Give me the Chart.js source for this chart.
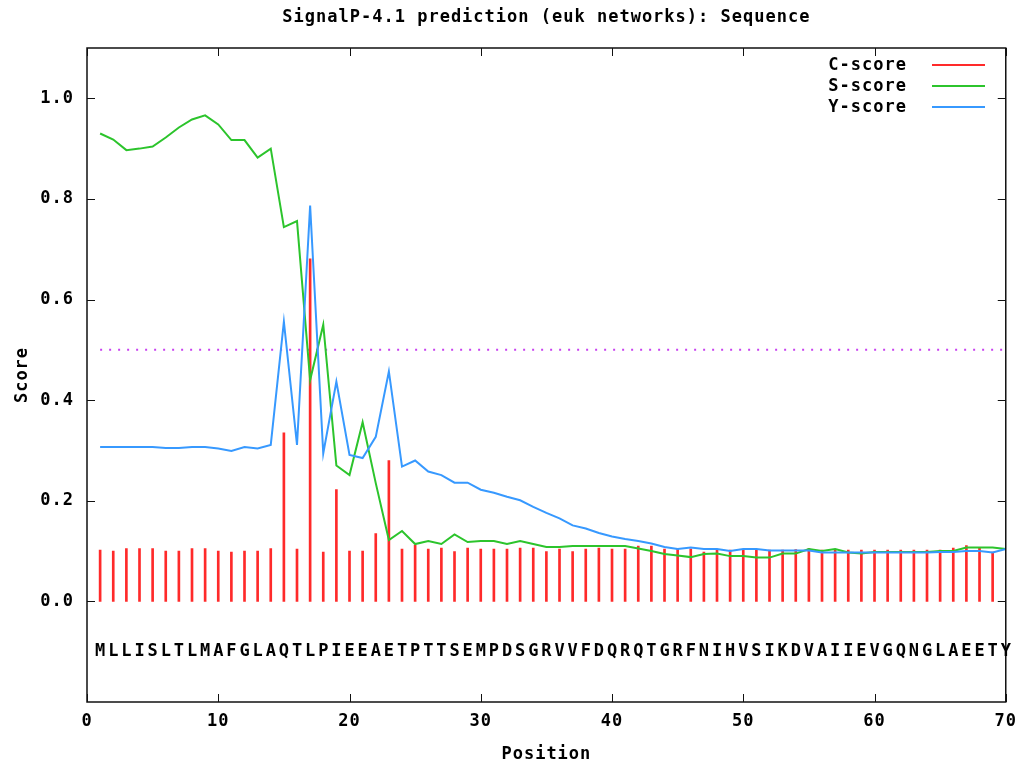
<!DOCTYPE html>
<html>
<head>
<meta charset="utf-8">
<script src="https://cdn.jsdelivr.net/npm/chart.js@4.4.1/dist/chart.umd.min.js"></script>
<style>
html,body{margin:0;padding:0;background:#fff;}
canvas{display:block;}
</style>
</head>
<body>
<canvas id="c" width="1025" height="763"></canvas>
<script>
const titleText = "SignalP-4.1 prediction (euk networks): Sequence";
const sequence = "MLLISLTLMAFGLAQTLPIEEAETPTTSEMPDSGRVVFDQRQTGRFNIHVSIKDVAIIEVGQNGLAEETY".split("");
const positions = sequence.map((_, i) => i + 1);

const cScore = [0.102,0.100,0.105,0.105,0.105,0.100,0.100,0.105,0.105,0.100,
  0.098,0.100,0.100,0.105,0.335,0.104,0.681,0.098,0.222,0.100,
  0.100,0.135,0.280,0.104,0.112,0.104,0.106,0.099,0.106,0.104,
  0.104,0.104,0.106,0.106,0.099,0.104,0.099,0.104,0.106,0.104,
  0.104,0.110,0.110,0.104,0.104,0.104,0.098,0.103,0.102,0.102,
  0.103,0.102,0.102,0.103,0.105,0.102,0.103,0.102,0.102,0.102,
  0.102,0.102,0.102,0.102,0.102,0.106,0.111,0.106,0.098];

const sScore = [0.930,0.918,0.897,0.900,0.904,0.922,0.942,0.958,0.966,0.948,
  0.917,0.917,0.882,0.900,0.744,0.756,0.440,0.550,0.270,0.251,
  0.356,0.235,0.122,0.140,0.114,0.120,0.114,0.133,0.118,0.120,
  0.120,0.114,0.120,0.114,0.108,0.108,0.110,0.110,0.110,0.110,
  0.110,0.105,0.100,0.094,0.091,0.088,0.094,0.095,0.090,0.090,
  0.087,0.087,0.095,0.095,0.104,0.100,0.104,0.097,0.095,0.098,
  0.098,0.098,0.098,0.098,0.100,0.100,0.107,0.107,0.107,0.104];

const yScore = [0.307,0.307,0.307,0.307,0.307,0.305,0.305,0.307,0.307,0.304,
  0.299,0.307,0.304,0.311,0.556,0.311,0.787,0.294,0.437,0.291,
  0.285,0.327,0.457,0.268,0.280,0.258,0.251,0.236,0.236,0.222,
  0.216,0.208,0.201,0.188,0.176,0.165,0.151,0.145,0.136,0.129,
  0.124,0.120,0.115,0.108,0.104,0.107,0.104,0.104,0.100,0.104,
  0.104,0.101,0.101,0.101,0.101,0.097,0.097,0.097,0.097,0.097,
  0.097,0.097,0.097,0.097,0.098,0.098,0.100,0.100,0.097,0.104];

const threshold = 0.5;
const xTicks = [0,10,20,30,40,50,60,70];
const yTicks = [0.0,0.2,0.4,0.6,0.8,1.0];
const seqLetterY = -0.1;

const FONT = "DejaVu Sans Mono";
const fontSpec = {family: FONT, size: 17, weight: 'bold'};

const toXY = arr => arr.map((v, i) => ({x: positions[i], y: v}));

const customPlugin = {
  id: 'gnuplotStyle',
  beforeInit(chart) { chart.ctx.letterSpacing = '1px'; },
  beforeDraw(chart) { chart.ctx.letterSpacing = '1px'; },
  afterDatasetsDraw(chart) {
    const {ctx, chartArea: a, scales: {x, y}} = chart;
    ctx.save();
    ctx.strokeStyle = '#111';
    ctx.lineWidth = 1.5;
    ctx.strokeRect(a.left, a.top, a.right - a.left, a.bottom - a.top);
    ctx.beginPath();
    const tl = 8;
    yTicks.forEach(v => {
      const py = Math.round(y.getPixelForValue(v)) + 0.5;
      ctx.moveTo(a.left, py); ctx.lineTo(a.left + tl, py);
      ctx.moveTo(a.right, py); ctx.lineTo(a.right - tl, py);
    });
    xTicks.forEach(v => {
      const px = Math.round(x.getPixelForValue(v)) + 0.5;
      ctx.moveTo(px, a.bottom); ctx.lineTo(px, a.bottom - tl);
      ctx.moveTo(px, a.top); ctx.lineTo(px, a.top + tl);
    });
    ctx.lineWidth = 1;
    ctx.stroke();
    ctx.restore();
  },
  afterDraw(chart) {
    const {ctx, chartArea: a, scales: {x, y}} = chart;
    ctx.save();
    ctx.letterSpacing = '1px';
    ctx.fillStyle = '#000';
    ctx.font = `bold 17px "${FONT}"`;
    ctx.textAlign = 'center';
    ctx.textBaseline = 'middle';
    ctx.fillText(titleText, (a.left + a.right) / 2, 18);
    // sequence letters
    ctx.letterSpacing = '0px';
    const sy = y.getPixelForValue(seqLetterY);
    sequence.forEach((ch, i) => {
      ctx.fillText(ch, x.getPixelForValue(positions[i]), sy);
    });
    // legend
    ctx.letterSpacing = '1px';
    const items = chart.data.datasets.filter(d => d.legend);
    items.sort((p, q) => p.legend - q.legend);
    ctx.textAlign = 'right';
    items.forEach((d, i) => {
      const ly = 65 + i * 21;
      ctx.fillStyle = '#000';
      ctx.fillText(d.label, 907, ly + 1);
      ctx.strokeStyle = d.borderColor;
      ctx.lineWidth = 2;
      ctx.beginPath();
      ctx.moveTo(932, ly); ctx.lineTo(985, ly);
      ctx.stroke();
    });
    ctx.restore();
  }
};

new Chart(document.getElementById('c'), {
  type: 'bar',
  data: {
    datasets: [
      {type: 'line', label: 'Y-score', legend: 3, data: toXY(yScore), borderColor: '#3799ff', borderWidth: 2, pointRadius: 0, tension: 0, order: 0},
      {type: 'line', label: 'S-score', legend: 2, data: toXY(sScore), borderColor: '#2cc42c', borderWidth: 2, pointRadius: 0, tension: 0, order: 1},
      {type: 'bar', label: 'C-score', legend: 1, data: toXY(cScore), backgroundColor: '#ff2a2a', borderColor: '#ff2a2a', barThickness: 2, order: 2},
      {type: 'line', label: 'threshold', data: [{x: positions[0], y: threshold}, {x: positions[positions.length - 1], y: threshold}], borderColor: '#c840f0', borderWidth: 2, borderDash: [2, 7], pointRadius: 0, order: 3}
    ]
  },
  options: {
    responsive: false,
    devicePixelRatio: 1,
    animation: false,
    layout: {padding: {top: 48, right: 18, left: 0, bottom: 0}},
    plugins: {legend: {display: false}, title: {display: false}, tooltip: {enabled: false}},
    scales: {
      x: {
        type: 'linear', min: 0, max: 70, offset: false,
        grid: {display: false, drawTicks: false},
        border: {display: false},
        afterBuildTicks: s => { s.ticks = xTicks.map(v => ({value: v})); },
        afterFit: s => { s.height = 61; },
        ticks: {font: fontSpec, color: '#000', padding: 9, maxRotation: 0, autoSkip: false, callback: v => String(v)},
        title: {display: true, text: 'Position', font: fontSpec, color: '#000', padding: {top: 0, bottom: -2}}
      },
      y: {
        type: 'linear', min: -0.2, max: 1.1,
        grid: {display: false, drawTicks: false},
        border: {display: false},
        afterBuildTicks: s => { s.ticks = yTicks.map(v => ({value: v})); },
        afterFit: s => { s.width = 87; },
        ticks: {font: fontSpec, color: '#000', padding: 13, autoSkip: false, callback: v => Number(v).toFixed(1)},
        title: {display: true, text: 'Score', font: fontSpec, color: '#000', padding: {top: 12, bottom: 0}}
      }
    }
  },
  plugins: [customPlugin]
});
</script>
</body>
</html>
